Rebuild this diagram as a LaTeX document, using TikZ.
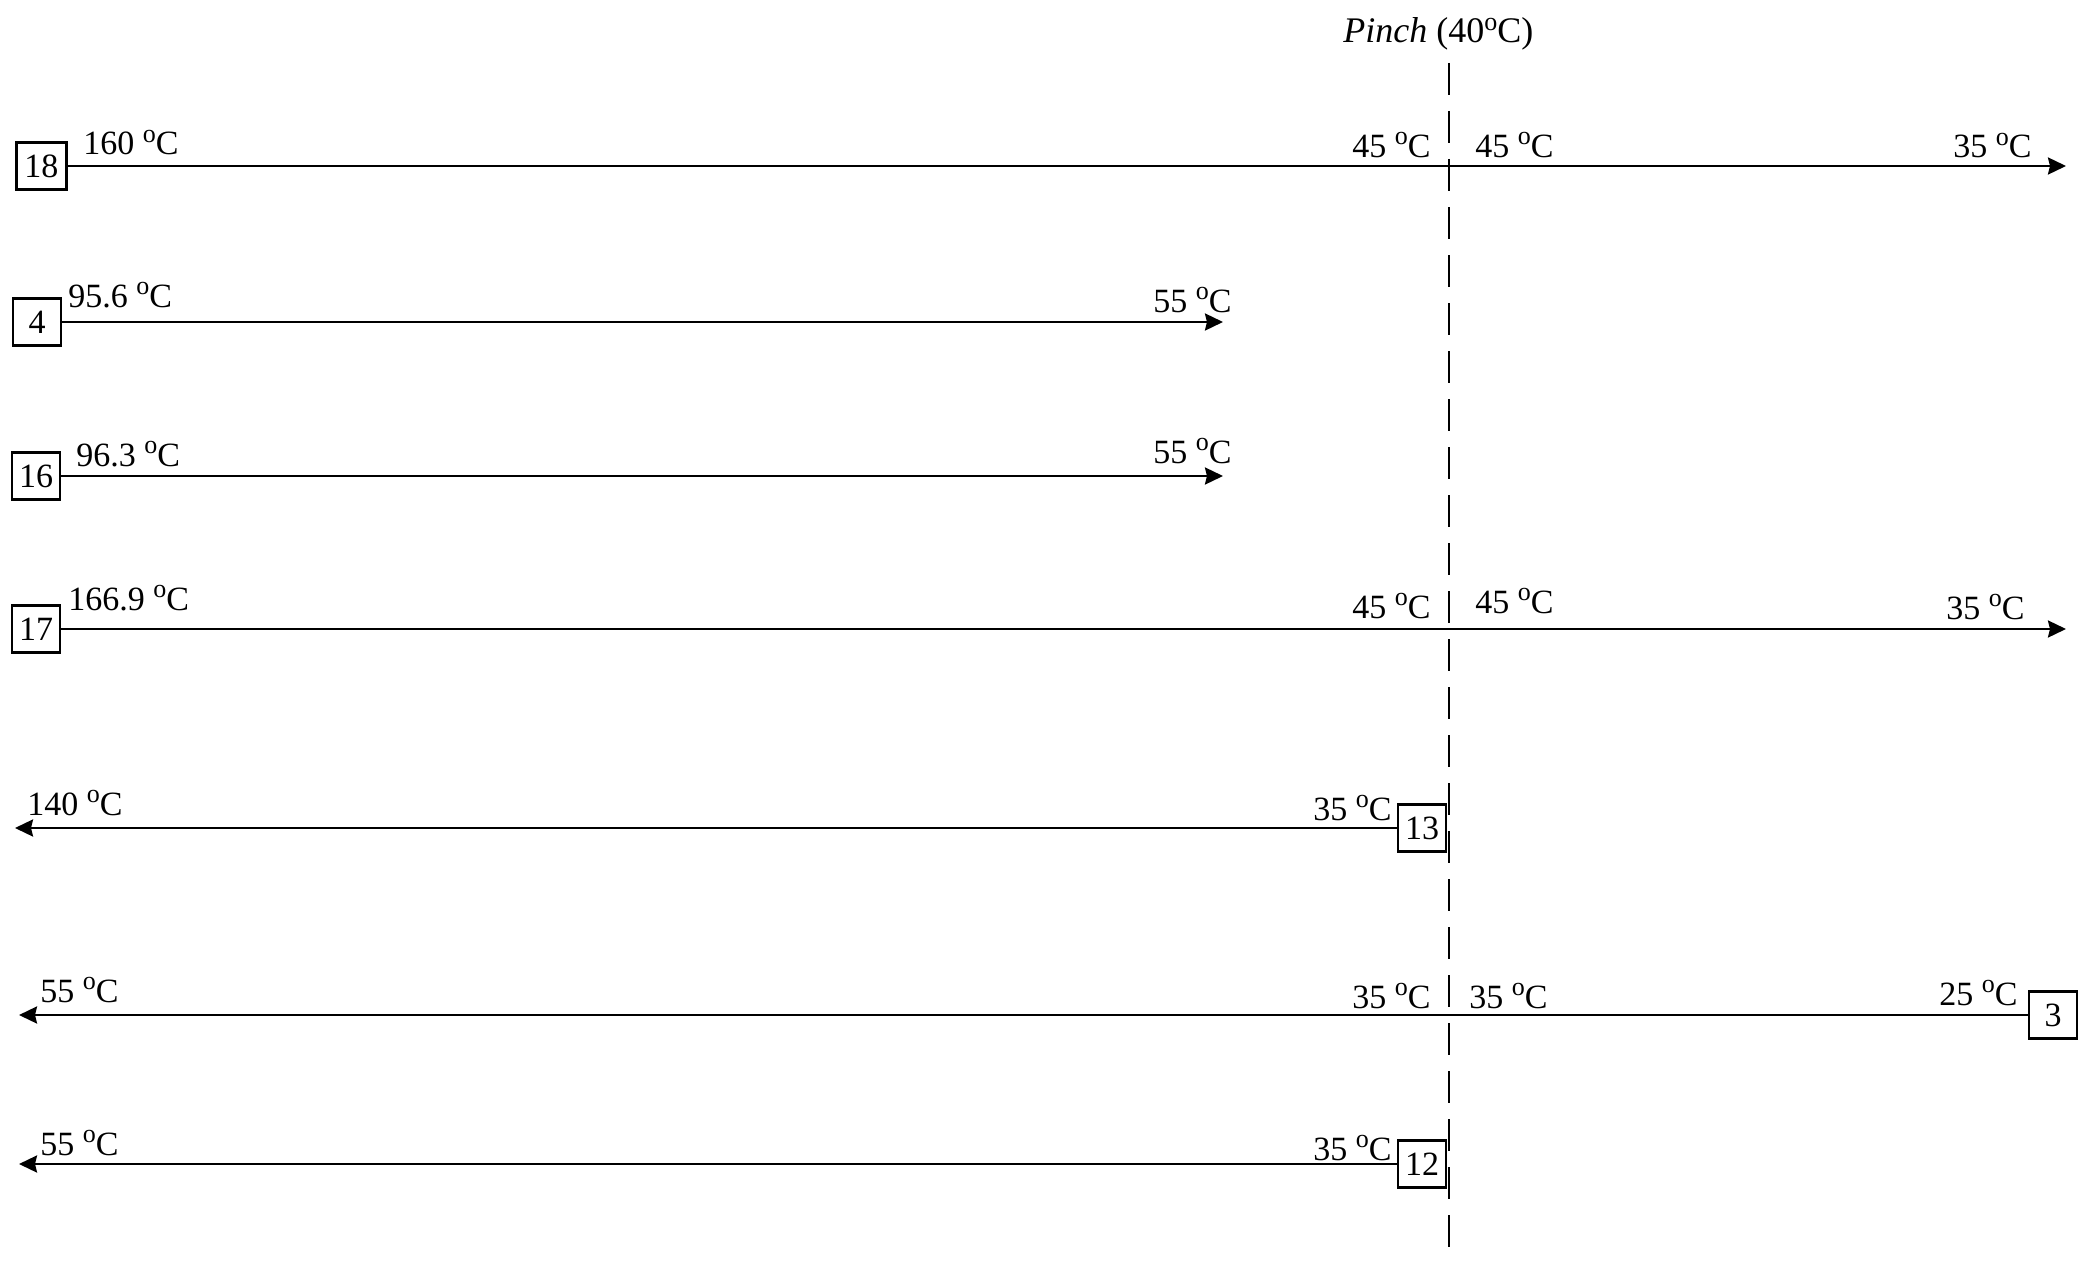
\documentclass[tikz,border=0pt]{standalone}
\usepackage{fontspec}
\setmainfont{Liberation Serif}
\usetikzlibrary{arrows.meta}
\newcommand{\dC}{\raisebox{6.3pt}{\fontsize{13}{13}\selectfont o}C}
\begin{document}
\begin{tikzpicture}[x=0.5pt,y=-0.5pt,
  every node/.style={font=\fontsize{17}{20}\selectfont, inner sep=0pt},
  lbl/.style={anchor=base west},
  numbox/.style={draw, line width=1.3pt, fill=white, minimum width=24pt, minimum height=23.5pt, inner sep=0pt},
  stream/.style={line width=1.3pt, -{Stealth[length=9pt,width=8.5pt,inset=1pt]}},
  pinchline/.style={line width=1.1pt, dash pattern=on 16pt off 8pt}]
\useasboundingbox (0,0) rectangle (2089,1268);
% pinch
\coordinate (p1) at (1449,63);
\coordinate (p2) at (1449,1255);
\draw[pinchline] (p1) -- (p2);
\node[lbl, font=\fontsize{18}{20}\selectfont] (pinch) at (1343,43) {\textit{Pinch} (40\dC)};
% stream 18
\node[numbox, minimum width=25pt] (b18) at (41.5,166) {18};
\coordinate (e18) at (2066,166);
\draw[stream] (b18.east) -- (e18);
\node[lbl] (t18a) at (83,155) {160 \dC};
\node[lbl] (t18b) at (1352,157) {45 \dC};
\node[lbl] (t18c) at (1475,157) {45 \dC};
\node[lbl] (t18d) at (1953,158) {35 \dC};
% stream 4
\node[numbox] (b4) at (37,322) {4};
\coordinate (e4) at (1223,322);
\draw[stream] (b4.east) -- (e4);
\node[lbl] (t4a) at (68,307) {95.6 \dC};
\node[lbl] (t4b) at (1153,312) {55 \dC};
% stream 16
\node[numbox] (b16) at (36,476) {16};
\coordinate (e16) at (1223,476);
\draw[stream] (b16.east) -- (e16);
\node[lbl] (t16a) at (76,466) {96.3 \dC};
\node[lbl] (t16b) at (1153,463) {55 \dC};
% stream 17
\node[numbox] (b17) at (36,629) {17};
\coordinate (e17) at (2066,629);
\draw[stream] (b17.east) -- (e17);
\node[lbl] (t17a) at (68,610) {166.9 \dC};
\node[lbl] (t17b) at (1352,618) {45 \dC};
\node[lbl] (t17c) at (1475,613) {45 \dC};
\node[lbl] (t17d) at (1946,619) {35 \dC};
% stream 13
\node[numbox] (b13) at (1422,828) {13};
\coordinate (e13) at (15,828);
\draw[stream] (b13.west) -- (e13);
\node[lbl] (t13a) at (27,815) {140 \dC};
\node[lbl] (t13b) at (1313,820) {35 \dC};
% stream 3
\node[numbox] (b3) at (2053,1015) {3};
\coordinate (e3) at (19,1015);
\draw[stream] (b3.west) -- (e3);
\node[lbl] (t3a) at (40,1002) {55 \dC};
\node[lbl] (t3b) at (1352,1008) {35 \dC};
\node[lbl] (t3c) at (1469,1008) {35 \dC};
\node[lbl] (t3d) at (1939,1005) {25 \dC};
% stream 12
\node[numbox] (b12) at (1422,1164) {12};
\coordinate (e12) at (19,1164);
\draw[stream] (b12.west) -- (e12);
\node[lbl] (t12a) at (40,1155) {55 \dC};
\node[lbl] (t12b) at (1313,1160) {35 \dC};
\end{tikzpicture}
\end{document}
